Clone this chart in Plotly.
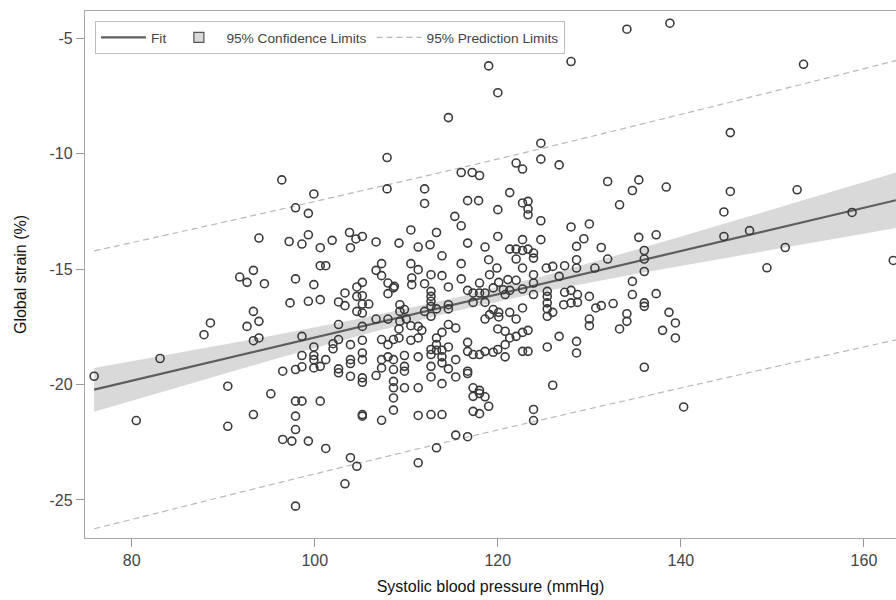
import plotly.graph_objects as go

# ---- data ----
sbp_a = [96.4, 93.9, 97.2, 93.3, 119.0, 114.6, 107.9, 116.0, 117.2, 118.0, 99.9, 107.9, 112.0, 112.0, 116.7,
         117.9, 97.9, 99.3, 115.3, 116.0, 98.6, 99.3, 100.6, 101.9, 103.8, 104.5, 105.2, 103.9, 106.7, 109.2,
         110.5, 111.3, 112.6, 113.3, 113.9, 116.7, 118.6, 119.0, 100.6, 101.2, 107.3, 106.7, 110.5, 111.3, 116.0]
strain_a = [-11.13, -13.65, -13.80, -15.05, -6.19, -8.43, -10.16, -10.81, -10.81, -10.94, -11.74, -11.52, -11.52, -12.15, -12.03,
            -12.03, -12.34, -12.58, -12.71, -13.12, -13.91, -13.51, -14.07, -13.75, -13.41, -13.69, -13.58, -14.07, -13.82, -13.87,
            -13.30, -14.04, -13.94, -13.41, -14.42, -13.87, -14.04, -14.59, -14.85, -14.85, -14.76, -15.05, -14.76, -15.02, -14.76]

sbp_b = [97.9, 99.9, 107.3, 108.0, 108.7, 110.6, 110.6, 112.0, 112.7, 113.9, 114.6, 116.0, 116.7, 117.3, 118.0, 118.6, 118.0,
         97.3, 99.3, 100.6, 102.6, 103.3, 103.3, 104.6, 104.6, 105.2, 105.2, 105.2, 105.9, 104.6, 105.2, 106.7, 108.0,
         108.0, 108.6, 109.3, 109.3, 109.8, 110.0, 109.3, 112.7, 112.7, 112.7, 112.7, 112.7, 112.0, 113.3, 114.6, 114.6,
         117.3, 118.6, 118.6]
strain_b = [-15.42, -15.67, -15.28, -15.60, -15.74, -15.38, -15.67, -15.63, -15.24, -15.28, -15.77, -15.42, -15.92, -16.03, -16.03, -16.03, -15.60,
            -16.46, -16.39, -16.32, -16.42, -16.03, -16.58, -15.77, -16.18, -15.57, -16.15, -16.51, -16.51, -16.83, -16.90, -17.16, -17.16,
            -16.06, -15.81, -16.54, -16.83, -16.75, -17.16, -17.26, -15.96, -16.18, -16.39, -16.61, -17.04, -16.83, -16.72, -16.54, -16.72,
            -16.44, -16.44, -17.16]

sbp_c = [98.6, 102.6, 102.6, 102.0, 102.0, 103.9, 105.2, 105.2, 107.3, 108.0, 108.6, 109.2, 109.2, 110.5, 110.5, 111.3,
         111.7, 111.3, 112.7, 113.3, 113.3, 113.9, 113.9, 114.6, 114.6, 115.4, 116.7, 116.7, 117.3, 118.0, 118.6]
strain_c = [-17.91, -17.40, -18.05, -18.23, -18.45, -18.27, -17.48, -18.08, -18.05, -18.27, -18.05, -17.59, -17.98, -17.45, -18.08, -17.48,
            -17.65, -17.98, -18.48, -17.98, -18.27, -17.74, -18.51, -17.40, -18.37, -17.55, -18.17, -18.56, -18.70, -18.70, -18.56]

sbp_d = [98.6, 99.9, 99.9, 99.9, 101.2, 100.6, 97.9, 98.6, 99.9, 102.6, 102.6, 103.9, 103.9, 103.9, 105.2, 105.2,
         105.2, 105.2, 106.7, 107.3, 107.3, 108.0, 108.6, 108.6, 109.8, 109.8, 109.8, 111.3, 112.7, 112.7, 112.7, 113.3,
         113.9, 113.9, 113.9, 114.6, 115.4, 115.4, 116.7, 116.7, 108.6, 108.6, 109.8, 111.3, 117.3, 118.0]
strain_d = [-18.74, -18.37, -18.74, -18.92, -18.92, -19.21, -19.35, -19.23, -19.28, -19.32, -19.49, -18.92, -19.09, -19.64, -18.63, -18.92,
            -19.71, -19.90, -19.61, -18.92, -19.28, -18.80, -18.92, -19.35, -18.74, -19.21, -19.42, -18.80, -18.70, -19.21, -19.67, -18.51,
            -18.80, -19.06, -19.96, -19.32, -18.92, -19.67, -19.42, -19.52, -19.86, -20.14, -20.14, -20.14, -20.14, -20.25]

sbp_e = [97.9, 98.6, 100.6, 108.6, 97.9, 105.2, 105.2, 107.3, 108.6, 111.3, 112.7, 113.9, 117.3, 118.0, 118.6,
         117.3, 118.0, 119.0, 97.9, 97.5, 99.3, 101.2, 103.9, 104.6, 103.3, 97.9, 111.3, 113.3, 115.4, 116.7]
strain_e = [-20.72, -20.72, -20.72, -20.58, -21.37, -21.30, -21.37, -21.55, -21.11, -21.34, -21.30, -21.30, -20.51, -20.39, -20.53,
            -21.16, -21.26, -20.94, -21.95, -22.45, -22.45, -22.77, -23.17, -23.54, -24.30, -25.27, -23.39, -22.74, -22.19, -22.26]

sbp_f = [91.8, 92.6, 94.5, 88.6, 87.9, 93.3, 93.9, 92.6, 93.3, 93.9, 83.1, 75.9, 96.5, 90.5, 95.2, 80.5, 93.3, 90.5, 96.5]
strain_f = [-15.34, -15.57, -15.63, -17.33, -17.84, -16.83, -17.26, -17.48, -18.10, -17.98, -18.87, -19.64, -19.42, -20.07, -20.40,
            -21.56, -21.30, -21.81, -22.38]

sbp_g = [134.1, 138.8, 128.0, 120.0, 124.7, 124.7, 122.0, 122.7, 126.7, 132.0, 135.4, 134.7, 138.4, 121.3, 122.7, 123.3,
         123.3, 123.3, 120.0, 133.3, 124.7, 128.0, 130.0, 120.0, 122.7, 124.7, 129.4, 128.6, 135.4, 137.3, 131.3, 136.0,
         136.0, 121.3, 122.0, 122.7, 123.3, 123.9, 123.9, 122.0, 132.0, 128.6, 119.9, 122.7, 125.3, 126.0, 127.3, 128.6, 130.6]
strain_g = [-4.60, -4.34, -6.00, -7.35, -9.54, -10.23, -10.40, -10.66, -10.48, -11.20, -11.13, -11.59, -11.44, -11.68, -12.13, -12.06,
            -12.39, -12.64, -12.42, -12.21, -12.90, -13.17, -13.04, -13.58, -13.72, -13.72, -13.68, -14.01, -13.62, -13.51, -14.06, -14.19,
            -14.56, -14.13, -14.13, -14.19, -14.13, -14.30, -14.52, -14.56, -14.56, -14.59, -14.95, -14.95, -14.95, -14.88, -14.85, -14.95, -14.95]

sbp_h = [119.1, 121.1, 123.9, 126.7, 136.0, 120.1, 122.0, 123.9, 119.5, 120.6, 121.3, 122.7, 120.8, 123.9, 125.4, 125.4,
         127.3, 128.0, 128.7, 130.0, 134.7, 134.7, 137.3, 136.0, 136.0, 127.2, 128.0, 128.7, 125.4, 125.4, 130.7, 131.3,
         132.6, 119.5, 120.1, 119.1, 120.1, 121.3, 122.7, 122.0, 125.4, 126.0, 130.0, 130.0, 134.1, 134.1, 133.3, 138.7,
         139.4, 138.0, 139.4, 120.0, 120.8, 123.3, 122.7, 122.0, 121.3, 126.7, 128.6, 128.6, 125.4, 120.8, 120.0, 120.8,
         119.5, 122.7, 123.3, 136.0, 126.0, 123.9, 123.9, 140.3]
strain_h = [-15.24, -15.45, -15.24, -15.31, -15.10, -15.57, -15.48, -15.60, -15.81, -15.89, -15.92, -15.86, -16.10, -16.10, -15.96, -16.18,
            -16.00, -15.92, -16.10, -16.18, -15.53, -16.10, -16.06, -16.46, -16.61, -16.54, -16.46, -16.44, -16.46, -16.72, -16.68, -16.58,
            -16.49, -16.75, -16.87, -16.97, -17.07, -16.87, -16.68, -17.16, -17.04, -16.87, -17.16, -17.45, -16.93, -17.26, -17.59, -16.87,
            -17.33, -17.65, -17.98, -17.59, -17.69, -17.65, -17.74, -17.91, -17.98, -17.91, -18.13, -18.63, -18.37, -18.27, -18.48, -18.80,
            -18.60, -18.56, -18.56, -19.25, -20.03, -21.08, -21.56, -20.97]

sbp_i = [153.4, 145.4, 145.4, 152.7, 144.7, 158.7, 144.7, 147.5, 151.4, 149.4, 163.2]
strain_i = [-6.12, -9.08, -11.63, -11.56, -12.52, -12.54, -13.58, -13.33, -14.06, -14.94, -14.62]

# Regression fit, confidence band and prediction limits
fit_x = [75.9, 163.5]
fit_y = [-20.22, -12.01]
band_x = [75.9, 85, 95, 105, 116, 125, 135, 145, 155, 163.5]
ci_upper = [-19.28, -18.63, -17.91, -17.14, -16.18, -15.29, -14.17, -13.00, -11.81, -10.81]
ci_lower = [-21.18, -20.13, -18.97, -17.86, -16.76, -15.97, -15.21, -14.50, -13.81, -13.21]
pl_upper = [-14.21, -13.41, -12.52, -11.61, -10.60, -9.75, -8.78, -7.80, -6.81, -5.96]
pl_lower = [-26.25, -25.35, -24.36, -23.39, -22.34, -21.51, -20.60, -19.70, -18.81, -18.06]

x_ticks = [80, 100, 120, 140, 160]
y_ticks = [-25, -20, -15, -10, -5]
y_tick_text = ["-25", "-20", "-15", "-10", "-5"]

sbp = sbp_a + sbp_b + sbp_c + sbp_d + sbp_e + sbp_f + sbp_g + sbp_h + sbp_i
strain = strain_a + strain_b + strain_c + strain_d + strain_e + strain_f + strain_g + strain_h + strain_i

FONT = "Liberation Sans, Arial, sans-serif"

fig = go.Figure()

# confidence band
fig.add_trace(go.Scatter(
    x=band_x + band_x[::-1], y=ci_upper + ci_lower[::-1],
    fill="toself", fillcolor="#d9d9d9", line=dict(width=0),
    mode="lines", showlegend=False, hoverinfo="skip"))

# prediction limits
fig.add_trace(go.Scatter(
    x=band_x, y=pl_upper, mode="lines",
    line=dict(color="#b8b8b8", width=1.2, dash="6px,4px", shape="spline"),
    name="95% Prediction Limits", legendrank=3))
fig.add_trace(go.Scatter(
    x=band_x, y=pl_lower, mode="lines",
    line=dict(color="#b8b8b8", width=1.2, dash="6px,4px", shape="spline"),
    showlegend=False))

# fit line
fig.add_trace(go.Scatter(
    x=fit_x, y=fit_y, mode="lines",
    line=dict(color="#5e5e5e", width=2.2), name="Fit", legendrank=1))

# legend-only entry for the confidence band
fig.add_trace(go.Scatter(
    x=[None], y=[None], mode="markers",
    marker=dict(symbol="square", size=10, color="#d9d9d9", line=dict(color="#555555", width=1.2)),
    name="95% Confidence Limits", legendrank=2))

# observations
fig.add_trace(go.Scatter(
    x=sbp, y=strain, mode="markers",
    marker=dict(symbol="circle-open", size=8, color="#3a3a3a", line=dict(width=1.6)),
    showlegend=False))

fig.update_layout(
    width=896, height=600,
    margin=dict(l=85, r=0, t=11, b=62),
    paper_bgcolor="white", plot_bgcolor="white",
    font=dict(family=FONT, color="#333333"),
    showlegend=True,
    legend=dict(orientation="h", x=0.0123, y=0.981, xanchor="left", yanchor="top",
                bgcolor="white", bordercolor="#bdbdbd", borderwidth=1,
                font=dict(size=13.7, color="#444444"), traceorder="normal",
                itemwidth=45),
)

fig.update_xaxes(
    range=[74.9, 163.5], tickvals=x_ticks, ticks="outside", ticklen=8, tickcolor="#999999",
    showline=True, linecolor="#a6a6a6", linewidth=1.3, mirror=True,
    showgrid=False, zeroline=False,
    tickfont=dict(size=16, color="#444444", family=FONT),
    title=dict(text="Systolic blood pressure (mmHg)", font=dict(size=16, color="#111111", family=FONT), standoff=12))

fig.update_yaxes(
    range=[-26.65, -3.81], tickvals=y_ticks, ticktext=y_tick_text, ticks="outside", ticklen=8, tickcolor="#999999",
    showline=True, linecolor="#a6a6a6", linewidth=1.3, mirror=False,
    showgrid=False, zeroline=False,
    tickfont=dict(size=16, color="#444444", family=FONT),
    title=dict(text="Global strain (%)", font=dict(size=16, color="#111111", family=FONT), standoff=18))

fig.write_html("out.html")
